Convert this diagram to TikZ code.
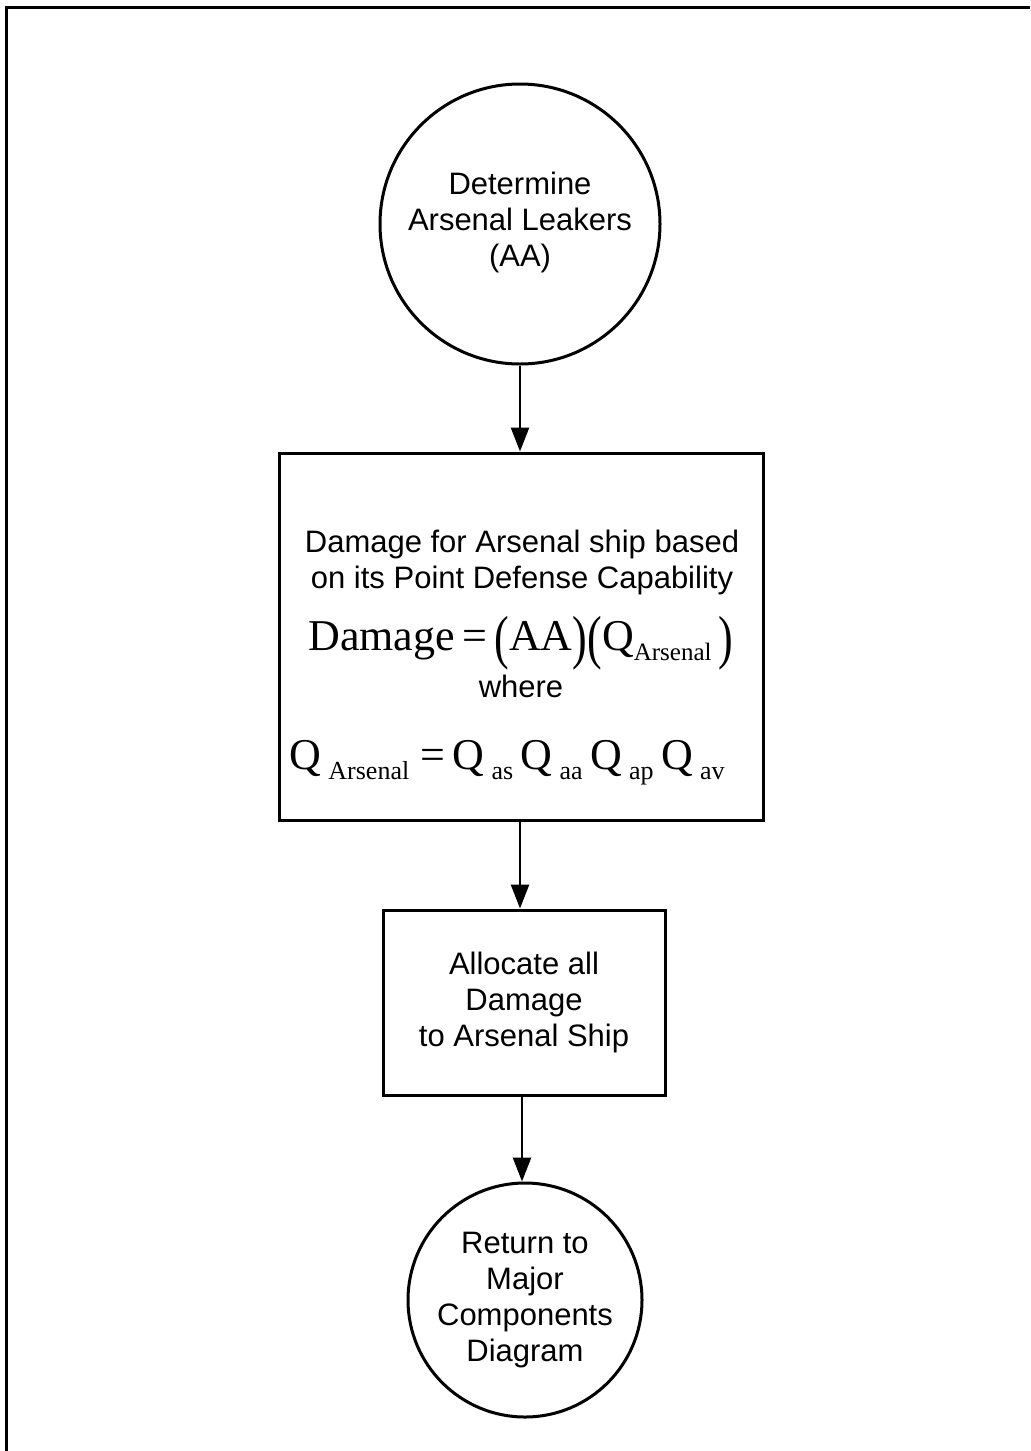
\documentclass[tikz,border=0pt]{standalone}
\usepackage{fontspec}
\setmainfont{Liberation Sans}
\newfontfamily\tnr{Liberation Serif}
\usepackage{graphicx}
\usetikzlibrary{arrows.meta}
\newcommand\mysub[2][13]{\raisebox{-5pt}{\fontsize{#1}{#1}\selectfont #2}}
\newcommand\bigp[1]{\raisebox{-3.5pt}{\scalebox{1}[1.35]{#1}}}
\begin{document}
\begin{tikzpicture}[x=0.5pt,y=-0.5pt,
  lw/.style={line width=1.5pt},
  circ/.style={circle,draw,lw,inner sep=0pt},
  box/.style={rectangle,draw,lw,inner sep=0pt},
  txt/.style={align=center,font=\fontsize{15.5}{18}\selectfont,inner sep=0pt},
  frm/.style={font=\tnr\fontsize{22}{26}\selectfont,inner sep=0pt,anchor=base},
  arr/.style={line width=1.3pt,-{Triangle[width=9pt,length=12pt]}}]
\useasboundingbox (0,0) rectangle (1030,1451);
\draw[lw] (6,1451) -- (6,7) -- (1030,7);
% circle 1
\node[circ,minimum size=140pt] (c1) at (520,224) {};
\node[txt] (t1) at (520,222) {Determine\\Arsenal Leakers\\(AA)};
% box 1
\node[box,minimum width=242pt,minimum height=183.5pt] (b1) at (521,636.5) {};
\node[txt,anchor=base] (l1) at (522,552) {Damage for Arsenal ship based};
\node[txt,anchor=base] (l2) at (522,588) {on its Point Defense Capability};
\node[frm] (l3) at (521,650) {Damage\,=\,\bigp{(}AA\bigp{)}\bigp{(}Q\mysub[12.5]{Arsenal}\,\bigp{)}};
\node[txt,anchor=base] (l4) at (521,697) {where};
\node[frm] (l5) at (507,769) {Q\,\mysub{Arsenal}\ =\,Q\,\mysub{as}\,Q\,\mysub{aa}\,Q\,\mysub{ap}\,Q\,\mysub{av}};
% box 2
\node[box,minimum width=141pt,minimum height=92.5pt] (b2) at (524,1002.5) {};
\node[txt] (t2) at (524,1002) {Allocate all\\Damage\\to Arsenal Ship};
% circle 2
\node[circ,minimum size=117pt] (c2) at (525,1300) {};
\node[txt] (t3) at (525,1300) {Return to\\Major\\Components\\Diagram};
% arrows
\draw[arr] (c1.south) -- (c1.south |- b1.north);
\draw[arr] (b1.south -| 520,0) -- (b2.north -| 520,0);
\draw[arr] (b2.south -| 522,0) -- (c2.north -| 522,0);
\end{tikzpicture}
\end{document}
